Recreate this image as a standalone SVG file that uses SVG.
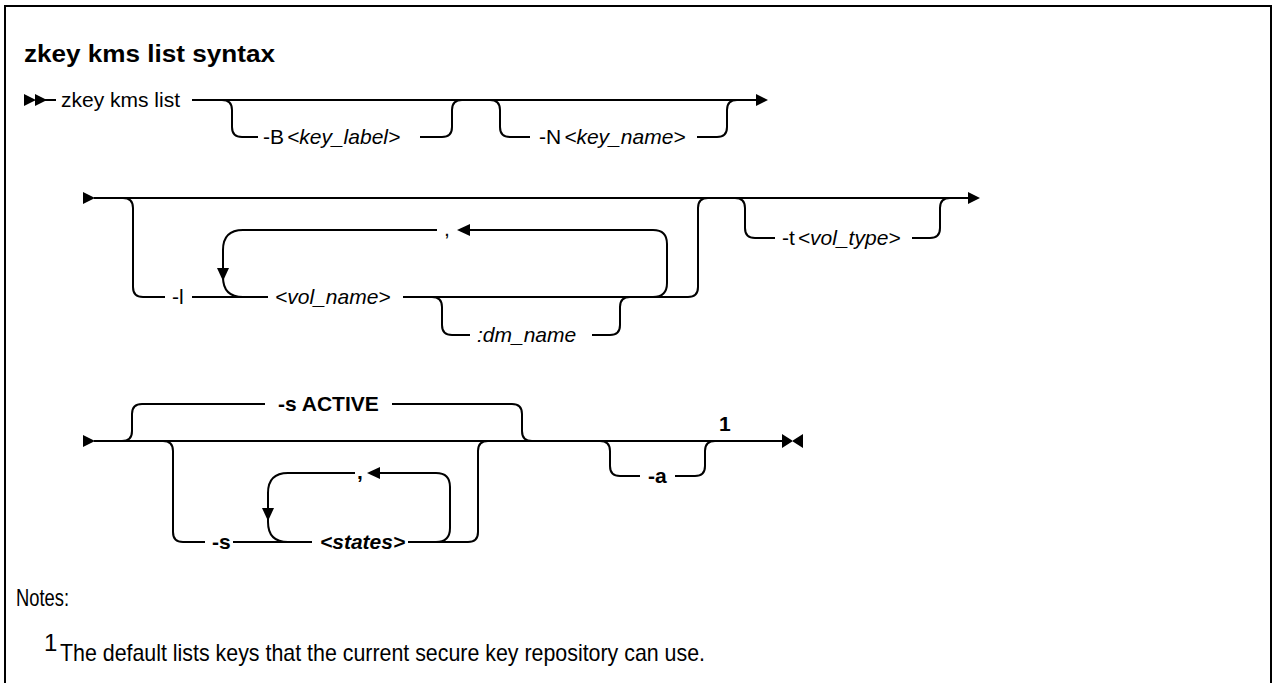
<svg xmlns="http://www.w3.org/2000/svg" width="1273" height="683" viewBox="0 0 1273 683">
  <style>
    .rail { fill: none; stroke: #000; stroke-width: 2; }
    .head { fill: #000; stroke: none; }
    .lbl { font-family: "Liberation Sans", Arial, sans-serif; font-size: 21px; fill: #000; }
    .it { font-style: italic; }
    .bd { font-weight: bold; }
    .note { font-family: "Liberation Sans", Arial, sans-serif; font-size: 24px; fill: #000; }
  </style>
  <rect x="0" y="0" width="1273" height="683" fill="#fff"/>
  <!-- frame (open at the bottom) -->
  <path d="M5 683 V6 H1271 V683" fill="none" stroke="#000" stroke-width="2"/>

  <text x="24" y="62" font-family="'Liberation Sans', Arial, sans-serif" font-size="23" font-weight="bold" textLength="251" lengthAdjust="spacingAndGlyphs">zkey kms list syntax</text>

  <!-- rails -->
  <g id="connectors">
    <!-- row 1 -->
    <path class="rail" d="M44 100 H56"/>
    <path class="rail" d="M192 100 H757"/>
    <path class="rail" d="M222 100 Q232 100 232 110 V127 Q232 137 242 137 H258"/>
    <path class="rail" d="M420 137 H442 Q452 137 452 127 V110 Q452 100 462 100"/>
    <path class="rail" d="M490 100 Q500 100 500 110 V127 Q500 137 510 137 H530"/>
    <path class="rail" d="M697 137 H717 Q727 137 727 127 V110 Q727 100 737 100"/>

    <!-- row 2 -->
    <path class="rail" d="M94 198 H970"/>
    <path class="rail" d="M123 198 Q133 198 133 208 V287 Q133 297 143 297 H165"/>
    <path class="rail" d="M192 297 H268"/>
    <path class="rail" d="M437 230 H243 Q223 230 223 250 V277 Q223 297 243 297"/>
    <path class="rail" d="M468 230 H653 Q667 230 667 244 V283 Q667 297 653 297"/>
    <path class="rail" d="M403 297 H688 Q698 297 698 287 V208 Q698 198 708 198"/>
    <path class="rail" d="M432 297 Q442 297 442 307 V325 Q442 335 452 335 H470"/>
    <path class="rail" d="M592 335 H610 Q620 335 620 325 V307 Q620 297 630 297"/>
    <path class="rail" d="M735 198 Q745 198 745 208 V228 Q745 238 755 238 H775"/>
    <path class="rail" d="M912 238 H930 Q940 238 940 228 V208 Q940 198 950 198"/>

    <!-- row 3 -->
    <path class="rail" d="M94 441 H784"/>
    <path class="rail" d="M122 441 Q132 441 132 431 V414 Q132 404 142 404 H265"/>
    <path class="rail" d="M392 404 H512 Q522 404 522 414 V431 Q522 441 532 441"/>
    <path class="rail" d="M163 441 Q173 441 173 451 V532 Q173 542 183 542 H205"/>
    <path class="rail" d="M233 542 H312"/>
    <path class="rail" d="M355 473 H288 Q268 473 268 493 V522 Q268 542 288 542"/>
    <path class="rail" d="M378 473 H436 Q450 473 450 487 V528 Q450 542 436 542"/>
    <path class="rail" d="M408 542 H468 Q478 542 478 532 V451 Q478 441 488 441"/>
    <path class="rail" d="M600 441 Q610 441 610 451 V466 Q610 476 620 476 H640"/>
    <path class="rail" d="M675 476 H695 Q705 476 705 466 V451 Q705 441 715 441"/>

    <!-- arrowheads -->
    <path class="head" d="M24 94 L36 100 L24 106 Z M35 94 L47 100 L35 106 Z"/>
    <path class="head" d="M756 94 L768 100 L756 106 Z"/>
    <path class="head" d="M83 192 L95 198 L83 204 Z"/>
    <path class="head" d="M968 192 L980 198 L968 204 Z"/>
    <path class="head" d="M217 268 L229 268 L223 281 Z"/>
    <path class="head" d="M470 224 L457 230 L470 236 Z"/>
    <path class="head" d="M83 435 L95 441 L83 447 Z"/>
    <path class="head" d="M262 508 L274 508 L268 521 Z"/>
    <path class="head" d="M380 467 L367 473 L380 479 Z"/>
    <path class="head" d="M782 434 L793 441 L782 448 Z M803 434 L792 441 L803 448 Z"/>
  </g>

  <!-- row 1 items -->
  <g id="cmd"><text class="lbl" x="61" y="107">zkey kms list</text></g>
  <g id="opt-B"><text class="lbl" x="263" y="144">-B<tspan class="it" dx="3">&lt;key_label&gt;</tspan></text></g>
  <g id="opt-N"><text class="lbl" x="539" y="144">-N<tspan class="it" dx="3">&lt;key_name&gt;</tspan></text></g>

  <!-- row 2 items -->
  <g id="opt-l"><text class="lbl" x="172" y="304">-l</text></g>
  <g id="vol-name"><text class="lbl it" x="275" y="304">&lt;vol_name&gt;</text></g>
  <g id="sep-vol"><text class="lbl" x="444" y="236">,</text></g>
  <g id="dm-name"><text class="lbl it" x="477" y="342">:dm_name</text></g>
  <g id="opt-t"><text class="lbl" x="782" y="245">-t<tspan class="it" dx="3">&lt;vol_type&gt;</tspan></text></g>

  <!-- row 3 items -->
  <g id="default-s"><text class="lbl bd" x="278" y="411">-s ACTIVE</text></g>
  <g id="opt-s"><text class="lbl bd" x="212" y="549">-s</text></g>
  <g id="states"><text class="lbl bd it" x="320" y="549">&lt;states&gt;</text></g>
  <g id="sep-states"><text class="lbl bd" x="357" y="479">,</text></g>
  <g id="opt-a"><text class="lbl bd" x="648" y="483">-a</text></g>
  <g id="ref-1"><text class="lbl bd" x="719" y="431">1</text></g>

  <!-- notes -->
  <g id="notes">
    <text class="note" x="16" y="606" font-size="25" textLength="53" lengthAdjust="spacingAndGlyphs">Notes:</text>
    <text class="note" x="44" y="651" font-size="15">1</text>
    <text class="note" x="60" y="661" font-size="25" textLength="645" lengthAdjust="spacingAndGlyphs">The default lists keys that the current secure key repository can use.</text>
  </g>
</svg>
